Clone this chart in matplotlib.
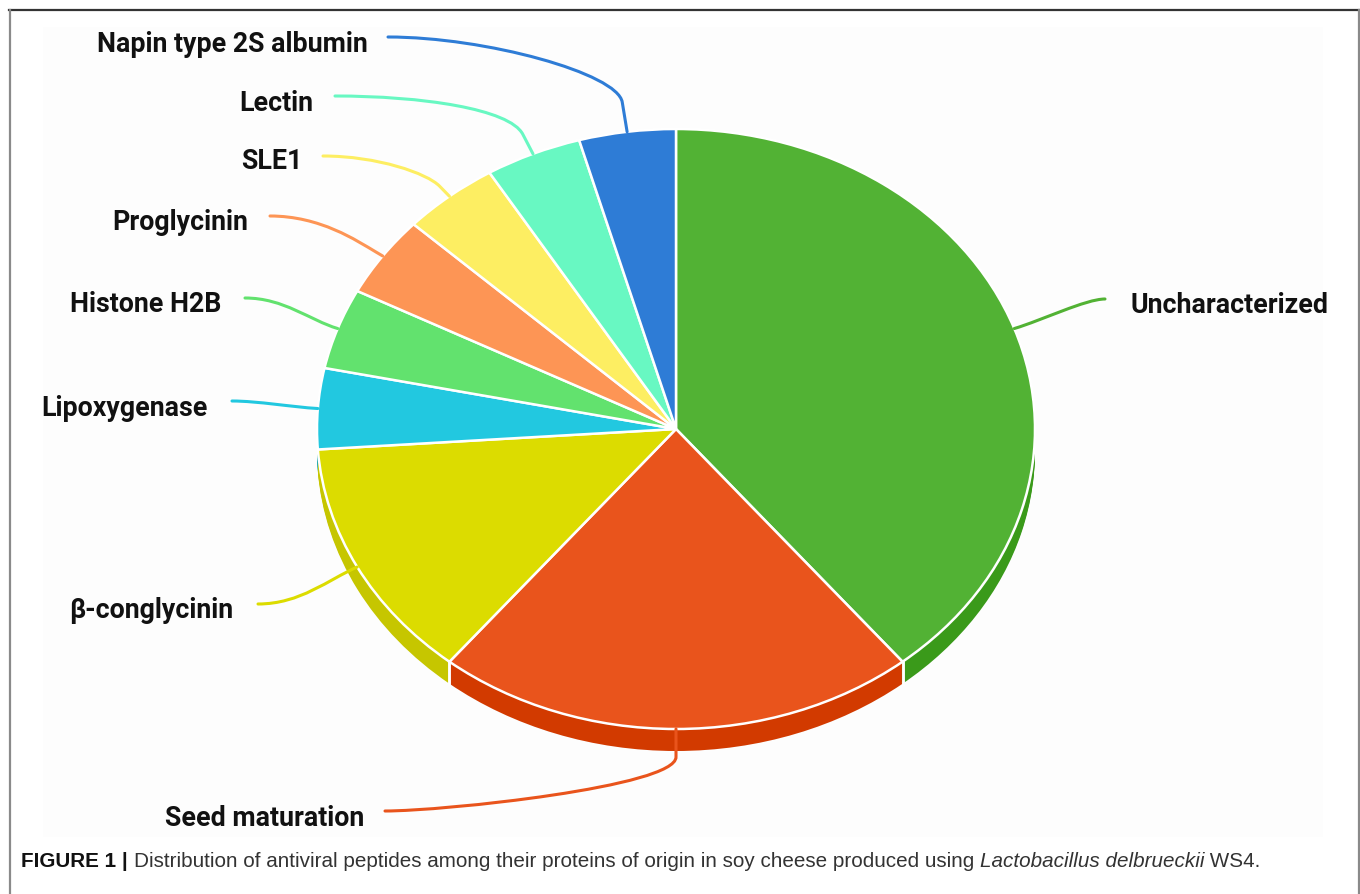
import numpy as np
import matplotlib
matplotlib.use('Agg')
import matplotlib.pyplot as plt
from matplotlib.path import Path
from matplotlib.patches import PathPatch, Rectangle
from matplotlib.lines import Line2D

# ---------------- data ----------------
labels = ['Uncharacterized', 'Seed maturation', 'β-conglycinin', 'Lipoxygenase',
          'Histone H2B', 'Proglycinin', 'SLE1', 'Lectin', 'Napin type 2S albumin']
counts = [9, 5, 3, 1, 1, 1, 1, 1, 1]
top_colors = ['#52b234', '#e9541c', '#dcdc00', '#22c8e0', '#62e26e',
              '#fd9555', '#fdee62', '#68f8c2', '#2e7cd6']
side_colors = ['#3a9a1a', '#d23a00', '#c6c600', '#1aa8c0', '#4fc85a',
               '#e07a40', '#e0d050', '#50d8a8', '#2460b0']

# ---------------- layout ----------------
W, H = 1360, 895
fig = plt.figure(figsize=(W / 100, H / 100), dpi=100)
fig.patch.set_facecolor('white')

# background panel / frame (pixel axes)
bg = fig.add_axes([0, 0, 1, 1], zorder=0)
bg.set_xlim(0, W); bg.set_ylim(H, 0); bg.set_axis_off()
bg.add_patch(Rectangle((43, 28), 1280, 810, facecolor='#fdfdfd', edgecolor='none'))
bg.add_line(Line2D([9, W], [11, 11], color='#333333', lw=1.6))
bg.add_line(Line2D([9.5, 9.5], [11, H], color='#8a8a8a', lw=1.6))
bg.add_line(Line2D([1358.5, 1358.5], [11, H], color='#8a8a8a', lw=1.6))

# pie axes: unit circle mapped to an ellipse
cx, cy, rx, ry = 676, 430, 359, 300
depth = 22 / ry
ax = fig.add_axes([0, 0, 1, 1], zorder=1)
ax.patch.set_alpha(0)

# side wall (stacked darker pies)
for off in np.linspace(depth, 0.004, 14):
    ax.pie(counts, colors=side_colors, startangle=90, counterclock=False,
           radius=1, center=(0, -off), wedgeprops=dict(linewidth=0))
wedges, _ = ax.pie(counts, colors=top_colors, startangle=90, counterclock=False,
                   radius=1, center=(0, 0),
                   wedgeprops=dict(edgecolor='white', linewidth=1.8))
ax.set_aspect('auto')
ax.set_xlim(-cx / rx, (W - cx) / rx)
ax.set_ylim((cy - H) / ry, cy / ry)
ax.set_axis_off()

# white separators on the wall
for w in wedges:
    for th in (w.theta1, w.theta2):
        t = np.deg2rad(th)
        if np.sin(t) < -0.1:
            ax.plot([np.cos(t), np.cos(t)], [np.sin(t), np.sin(t) - depth],
                    color='white', lw=1.8, zorder=5)

# overlay for labels
ov = fig.add_axes([0, 0, 1, 1], zorder=2)
ov.set_xlim(0, W); ov.set_ylim(H, 0); ov.set_axis_off()
ov.patch.set_alpha(0)


def to_pix(x, y):
    d = ax.transData.transform((x, y))
    return ov.transData.inverted().transform(d)


# label layout: text anchor (x, y, ha), leader end near text, straight arm
text_pos = {
    'Uncharacterized': (1130, 305, 'left'),
    'Seed maturation': (165, 819, 'left'),
    'β-conglycinin': (233, 610, 'right'),
    'Lipoxygenase': (208, 409, 'right'),
    'Histone H2B': (221, 304, 'right'),
    'Proglycinin': (248, 222, 'right'),
    'SLE1': (303, 161, 'right'),
    'Lectin': (313, 103, 'right'),
    'Napin type 2S albumin': (368, 44, 'right'),
}
line_end = {
    'Uncharacterized': (1105, 300),
    'Seed maturation': (385, 812),
    'β-conglycinin': (258, 605),
    'Lipoxygenase': (232, 402),
    'Histone H2B': (245, 299),
    'Proglycinin': (270, 217),
    'SLE1': (323, 157),
    'Lectin': (335, 97),
    'Napin type 2S albumin': (388, 38),
}
arm = {'Uncharacterized': 0, 'Seed maturation': 28, 'β-conglycinin': 0,
       'Lipoxygenase': 0, 'Histone H2B': 0, 'Proglycinin': 8, 'SLE1': 14,
       'Lectin': 22, 'Napin type 2S albumin': 30}
bend = {'Uncharacterized': (0.3, 0.2), 'Seed maturation': (0.1, 0.2),
        'β-conglycinin': (0.3, 0.4), 'Lipoxygenase': (0.3, 0.3),
        'Histone H2B': (0.3, 0.4), 'Proglycinin': (0.2, 0.45),
        'SLE1': (0.15, 0.45), 'Lectin': (0.15, 0.45),
        'Napin type 2S albumin': (0.12, 0.4)}

font_lab = dict(family=['Roboto', 'DejaVu Sans'], weight='bold', size=19.3)
for w, lab, col in zip(wedges, labels, top_colors):
    mid = np.deg2rad(0.5 * (w.theta1 + w.theta2))
    p0 = np.array(to_pix(np.cos(mid), np.sin(mid)))
    c = np.array(to_pix(0, 0))
    u = (p0 - c) / np.linalg.norm(p0 - c)
    p1 = p0 + u * arm[lab]
    L = np.array(line_end[lab], dtype=float)
    dist = np.linalg.norm(p1 - L)
    sx = 1.0 if L[0] < p1[0] else -1.0
    b1, b2 = bend[lab]
    c1 = p1 + u * b1 * dist
    c2 = L + np.array([sx * b2 * dist, 0])
    verts = [p0, p1, c1, c2, L]
    codes = [Path.MOVETO, Path.LINETO, Path.CURVE4, Path.CURVE4, Path.CURVE4]
    ov.add_patch(PathPatch(Path(verts, codes), facecolor='none',
                           edgecolor=col, lw=2.2, capstyle='round'))
    tx, ty, ha = text_pos[lab]
    ov.text(tx, ty, lab, ha=ha, va='center', color='#111111', **font_lab)

# caption
fig.canvas.draw()
r = fig.canvas.get_renderer()
cap_font = ['Liberation Sans', 'DejaVu Sans']
parts = [('FIGURE 1 | ', 'bold', 'normal', '#111111'),
         ('Distribution of antiviral peptides among their proteins of origin in soy cheese produced using ', 'normal', 'normal', '#333333'),
         ('Lactobacillus delbrueckii', 'normal', 'italic', '#333333'),
         (' WS4.', 'normal', 'normal', '#333333')]
x = 21
for txt, wt, st, colr in parts:
    t = ov.text(x, 862, txt, ha='left', va='center', family=cap_font,
                weight=wt, style=st, size=14.9, color=colr)
    bb = t.get_window_extent(renderer=r)
    x += bb.width

fig.savefig('out.png', dpi=100, facecolor='white')
